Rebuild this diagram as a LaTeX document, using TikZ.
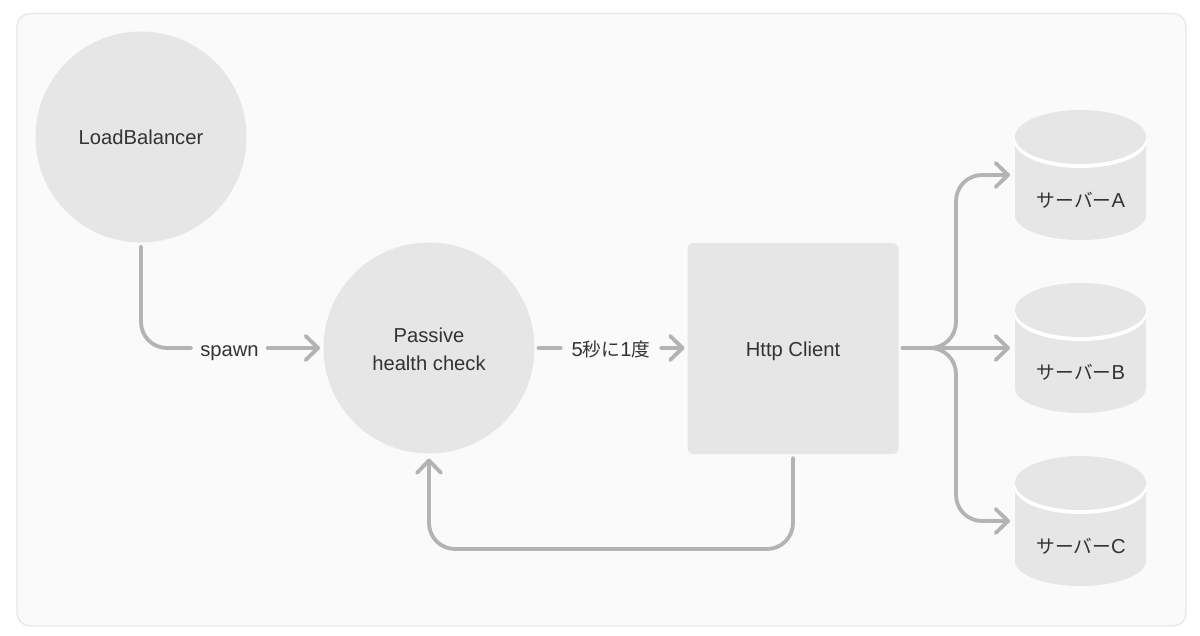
\documentclass[tikz,border=0pt]{standalone}
\usepackage{fontspec}
\setmainfont{Liberation Sans}
\newfontfamily\cjk{Noto Sans CJK JP}
\usetikzlibrary{arrows.meta}
\definecolor{panelbg}{HTML}{FAFAFA}
\definecolor{panelline}{HTML}{E9E9E9}
\definecolor{shapefill}{HTML}{E6E6E6}
\definecolor{linegray}{HTML}{B3B3B3}
\definecolor{textgray}{HTML}{333333}
\newcommand{\jpt}[1]{{\fontsize{18.7}{28}\selectfont\cjk #1}}
\tikzset{
  x=1pt,y=-1pt,
  txt/.style={text=textgray,font=\fontsize{20.2}{28}\selectfont,align=center,inner sep=0pt},
  oneline/.style={text=textgray,font=\fontsize{20.2}{28}\selectfont,inner sep=0pt,text height=21pt,text depth=5pt},
  roundnode/.style={circle,fill=shapefill,minimum size=211pt,inner sep=0pt,outer sep=0pt},
  squarenode/.style={rectangle,fill=shapefill,rounded corners=6pt,minimum size=211pt,inner sep=0pt,outer sep=0pt},
  cylbox/.style={rectangle,minimum width=131pt,minimum height=130pt,inner sep=0pt,outer sep=0pt},
  conn/.style={draw=linegray,line width=3.8pt,line cap=round,line join=round,rounded corners=26pt},
  tip/.style={-{Straight Barb[length=12.5pt,width=24pt,line width=3.8pt,round]}},
  gaplabel/.style={inner xsep=9pt,inner ysep=0pt,outer sep=0pt}
}
\newcommand{\cylshape}[2]{%
  % #1 = centre x, #2 = top y
  \fill[shapefill] (#1-65.5,#2+36) -- (#1-65.5,#2+105)
     arc[start angle=180,end angle=0,x radius=65.5,y radius=25] -- (#1+65.5,#2+36) -- cycle;
  \fill[white] (#1,#2+31) ellipse[x radius=66,y radius=27];
  \fill[shapefill] (#1,#2+27) ellipse[x radius=65.5,y radius=27];
}
\begin{document}
\begin{tikzpicture}
\useasboundingbox (0,0) rectangle (1200,636);
\fill[white] (0,0) rectangle (1200,636);
\draw[fill=panelbg,draw=panelline,line width=1.4pt,rounded corners=13pt] (17,13.5) rectangle (1186,626);

\node[roundnode] (lb) at (141,137) {};
\node[oneline] (lbt) at (141,137) {LoadBalancer};
\node[roundnode] (pass) at (429,348) {};
\node[txt] (passt) at (429,349) {Passive\\health check};
\node[squarenode] (http) at (793,348.5) {};
\node[oneline] (httpt) at (793,348) {Http Client};

\cylshape{1080.5}{110}
\cylshape{1080.5}{283}
\cylshape{1080.5}{456}
\node[cylbox] (srvA) at (1080.5,175) {};
\node[cylbox] (srvB) at (1080.5,348) {};
\node[cylbox] (srvC) at (1080.5,521) {};
\node[oneline] (srvAt) at (1081,200) {\jpt{サーバー}A};
\node[oneline] (srvBt) at (1081,372) {\jpt{サーバー}B};
\node[oneline] (srvCt) at (1081,545) {\jpt{サーバー}C};

\node[oneline,gaplabel] (spawn) at (229.5,348) {spawn};
\node[oneline,gaplabel,inner xsep=11pt] (five) at (611,348) {5\jpt{秒に}1\jpt{度}};

\coordinate (hub) at (956,348);
\coordinate (loopR) at (http.south |- 0,549);

\draw[conn,shorten <=4pt] (lb.south) |- (spawn.west);
\draw[conn,tip,shorten >=3.5pt] (spawn.east) -- (pass.west |- spawn.east);
\draw[conn,shorten <=4pt] (pass.east |- five.west) -- (five.west);
\draw[conn,tip,shorten >=3pt] (five.east) -- (http.west |- five.east);
\draw[conn,tip,shorten <=4pt,shorten >=5pt] (http.east |- hub) -- (hub) |- (srvA.west);
\draw[conn,tip,shorten <=4pt,shorten >=5pt] (http.east |- hub) -- (srvB.west);
\draw[conn,tip,shorten <=4pt,shorten >=5pt] (http.east |- hub) -- (hub) |- (srvC.west);
\draw[conn,tip,shorten <=4pt,shorten >=5pt] (http.south) -- (loopR) -| (pass.south);
\end{tikzpicture}
\end{document}
